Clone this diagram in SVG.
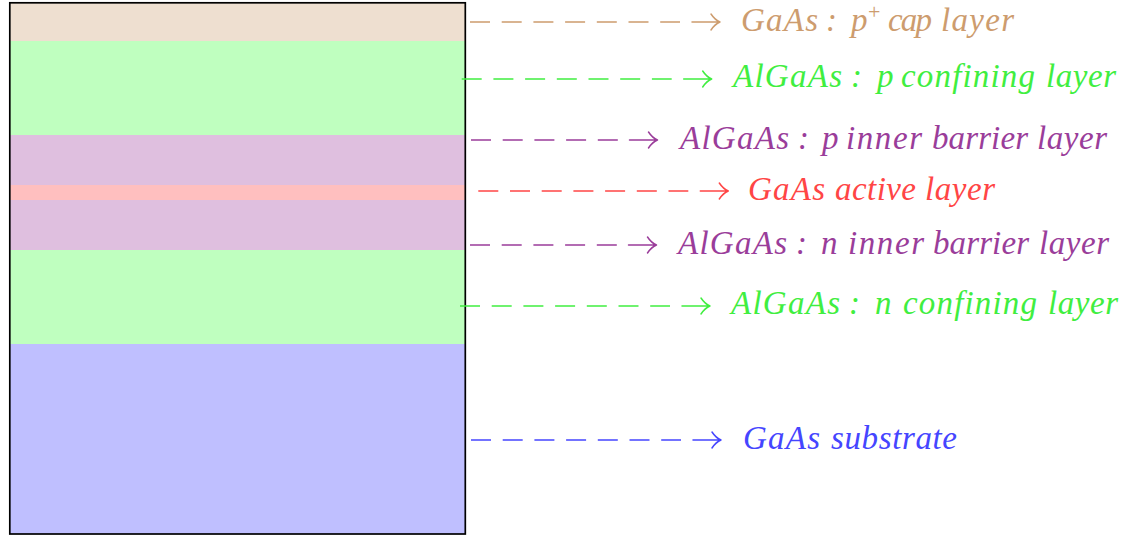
<svg xmlns="http://www.w3.org/2000/svg" width="1135" height="536" viewBox="0 0 1135 536">
<style>
.tan{fill:#CD9C6E}.grn{fill:#40EE40}.vio{fill:#9A3D9A}.red{fill:#FF4545}.blu{fill:#4545FF}
.dash{fill:none;stroke-width:1.6;stroke-dasharray:20 11.7}
.arr{fill:none;stroke-width:1.5;stroke-linecap:round;stroke-linejoin:round}
.s-tan{stroke:#CD9C6E}.s-grn{stroke:#40EE40}.s-vio{stroke:#9A3D9A}.s-red{stroke:#FF4545}.s-blu{stroke:#4545FF}
</style>
<rect width="1135" height="536" fill="#ffffff"/>
<g id="layer-cap"><rect x="10" y="3" width="455" height="38" fill="#EEDFD0"/></g>
<g id="layer-p-confining"><rect x="10" y="41" width="455" height="94" fill="#BFFFBF"/></g>
<g id="layer-p-inner-barrier"><rect x="10" y="135" width="455" height="50" fill="#DFBFDF"/></g>
<g id="layer-active"><rect x="10" y="185" width="455" height="15" fill="#FFBFBF"/></g>
<g id="layer-n-inner-barrier"><rect x="10" y="200" width="455" height="50" fill="#DFBFDF"/></g>
<g id="layer-n-confining"><rect x="10" y="250" width="455" height="94" fill="#BFFFBF"/></g>
<g id="layer-substrate"><rect x="10" y="344" width="455" height="190" fill="#BFBFFF"/></g>
<g id="stack-border"><rect x="9.8" y="2.8" width="455.5" height="531.2" fill="none" stroke="#000" stroke-width="1.7"/></g>

<g id="connectors">
  <line class="dash s-tan" x1="470" y1="22" x2="680" y2="22"/>
  <path class="arr s-tan" d="M692 22H720M711 14Q715 20 720 22Q715 24 711 30"/>
  <line class="dash s-grn" x1="461.7" y1="79" x2="671.7" y2="79"/>
  <path class="arr s-grn" d="M683.7 79H711.7M702.7 71Q706.7 77 711.7 79Q706.7 81 702.7 87"/>
  <line class="dash s-vio" x1="471" y1="140" x2="617.8" y2="140"/>
  <path class="arr s-vio" d="M629.5 140H657.5M648.5 132Q652.5 138 657.5 140Q652.5 142 648.5 148"/>
  <line class="dash s-red" x1="478.3" y1="191" x2="688.3" y2="191"/>
  <path class="arr s-red" d="M700.3 191H728.3M719.3 183Q723.3 189 728.3 191Q723.3 193 719.3 199"/>
  <line class="dash s-vio" x1="470" y1="245" x2="616.8" y2="245"/>
  <path class="arr s-vio" d="M628.5 245H656.5M647.5 237Q651.5 243 656.5 245Q651.5 247 647.5 253"/>
  <line class="dash s-grn" x1="460" y1="306" x2="670" y2="306"/>
  <path class="arr s-grn" d="M682 306H710M701 298Q705 304 710 306Q705 308 701 314"/>
  <line class="dash s-blu" x1="471" y1="440" x2="681" y2="440"/>
  <path class="arr s-blu" d="M693 440H721M712 432Q716 438 721 440Q716 442 712 448"/>
</g>

<g font-family="Liberation Serif, Times New Roman, serif" font-style="italic" font-size="33">
<g id="label-cap" class="tan">
  <text x="741" y="30.5" textLength="77" lengthAdjust="spacing">GaAs</text>
  <text x="826" y="30.5">:</text>
  <text x="851" y="30.5">p</text>
  <text x="868" y="18.5" font-size="22" font-style="normal">+</text>
  <text x="888" y="30.5" textLength="44" lengthAdjust="spacing">cap</text>
  <text x="941" y="30.5" textLength="73" lengthAdjust="spacing">layer</text>
</g>
<g id="label-p-confining" class="grn">
  <text x="733" y="87" textLength="109" lengthAdjust="spacing">AlGaAs</text>
  <text x="851" y="87">:</text>
  <text x="877" y="87">p</text>
  <text x="901" y="87" textLength="134" lengthAdjust="spacing">confining</text>
  <text x="1046" y="87" textLength="70" lengthAdjust="spacing">layer</text>
</g>
<g id="label-p-inner-barrier" class="vio">
  <text x="680" y="148.5" textLength="109" lengthAdjust="spacing">AlGaAs</text>
  <text x="798" y="148.5">:</text>
  <text x="822" y="148.5">p</text>
  <text x="846" y="148.5" textLength="76" lengthAdjust="spacing">inner</text>
  <text x="932" y="148.5" textLength="96" lengthAdjust="spacing">barrier</text>
  <text x="1037" y="148.5" textLength="70" lengthAdjust="spacing">layer</text>
</g>
<g id="label-active" class="red">
  <text x="748" y="199.5" textLength="77" lengthAdjust="spacing">GaAs</text>
  <text x="835" y="199.5" textLength="81" lengthAdjust="spacing">active</text>
  <text x="925" y="199.5" textLength="70" lengthAdjust="spacing">layer</text>
</g>
<g id="label-n-inner-barrier" class="vio">
  <text x="678" y="253.5" textLength="109" lengthAdjust="spacing">AlGaAs</text>
  <text x="796" y="253.5">:</text>
  <text x="821" y="253.5">n</text>
  <text x="848" y="253.5" textLength="76" lengthAdjust="spacing">inner</text>
  <text x="933" y="253.5" textLength="96" lengthAdjust="spacing">barrier</text>
  <text x="1039" y="253.5" textLength="70" lengthAdjust="spacing">layer</text>
</g>
<g id="label-n-confining" class="grn">
  <text x="731" y="314" textLength="109" lengthAdjust="spacing">AlGaAs</text>
  <text x="849" y="314">:</text>
  <text x="875" y="314">n</text>
  <text x="903" y="314" textLength="134" lengthAdjust="spacing">confining</text>
  <text x="1048" y="314" textLength="70" lengthAdjust="spacing">layer</text>
</g>
<g id="label-substrate" class="blu">
  <text x="743" y="448.5" textLength="77" lengthAdjust="spacing">GaAs</text>
  <text x="831" y="448.5" textLength="126" lengthAdjust="spacing">substrate</text>
</g>
</g>
</svg>
